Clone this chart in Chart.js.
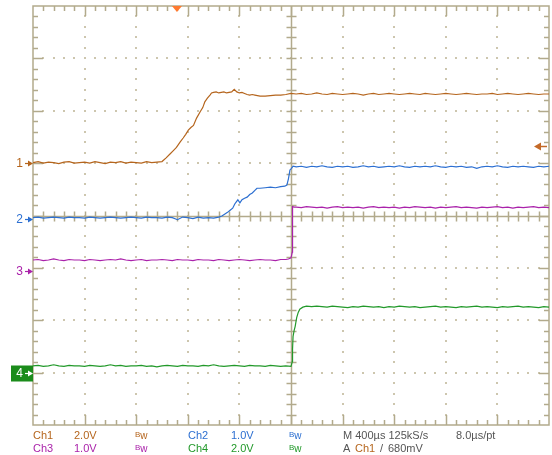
<!DOCTYPE html>
<html>
<head>
<meta charset="utf-8">
<script src="https://cdn.jsdelivr.net/npm/chart.js@4.4.0/dist/chart.umd.min.js"></script>
<style>
body { margin: 0; background: #fff; }
#wrap { position: relative; width: 552px; height: 455px; }
#scope { position: absolute; left: 0; top: 0; }
.t { position: absolute; font: 11px "Liberation Sans", Arial, sans-serif; line-height: 13px; white-space: pre; color: #555; }
.bw { font-size: 10px; }
.bw b { font-weight: normal; font-size: 8px; position: relative; top: -2px; }
</style>
</head>
<body>
<div id="wrap">
<canvas id="scope" width="552" height="455"></canvas>
<!-- readout row 1 -->
<span class="t" style="left:33px;top:429px;color:#b5651d">Ch1</span>
<span class="t" style="left:74px;top:429px;color:#b5651d">2.0V</span>
<span class="t bw" style="left:135px;top:429px;color:#b5651d"><b>B</b>w</span>
<span class="t" style="left:188px;top:429px;color:#2c6fd1">Ch2</span>
<span class="t" style="left:231px;top:429px;color:#2c6fd1">1.0V</span>
<span class="t bw" style="left:289px;top:429px;color:#2c6fd1"><b>B</b>w</span>
<span class="t" style="left:343px;top:429px">M 400µs 125kS/s</span>
<span class="t" style="left:456px;top:429px">8.0µs/pt</span>
<!-- readout row 2 -->
<span class="t" style="left:33px;top:442px;color:#aa22aa">Ch3</span>
<span class="t" style="left:74px;top:442px;color:#aa22aa">1.0V</span>
<span class="t bw" style="left:135px;top:442px;color:#aa22aa"><b>B</b>w</span>
<span class="t" style="left:188px;top:442px;color:#22992a">Ch4</span>
<span class="t" style="left:231px;top:442px;color:#22992a">2.0V</span>
<span class="t bw" style="left:289px;top:442px;color:#22992a"><b>B</b>w</span>
<span class="t" style="left:343px;top:442px">A</span>
<span class="t" style="left:355px;top:442px;color:#b5651d">Ch1</span>
<span class="t" style="left:380px;top:442px">/</span>
<span class="t" style="left:388px;top:442px">680mV</span>
</div>
<script>
// time base in divisions (400us/div), typed once and sliced per channel
const grid01 = [0.0,0.1,0.2,0.3,0.4,0.5,0.6,0.7,0.8,0.9,
  1.0,1.1,1.2,1.3,1.4,1.5,1.6,1.7,1.8,1.9,
  2.0,2.1,2.2,2.3,2.4,2.5,2.6,2.7,2.8,2.9,
  3.0,3.1,3.2,3.3,3.4,3.5,3.6,3.7,3.8,3.9,
  4.0,4.1,4.2,4.3,4.4,4.5,4.6,4.7,4.8,4.9,
  5.0,5.1,5.2,5.3,5.4,5.5,5.6,5.7,5.8,5.9,
  6.0,6.1,6.2,6.3,6.4,6.5,6.6,6.7,6.8,6.9,
  7.0,7.1,7.2,7.3,7.4,7.5,7.6,7.7,7.8,7.9,
  8.0,8.1,8.2,8.3,8.4,8.5,8.6,8.7,8.8,8.9,
  9.0,9.1,9.2,9.3,9.4,9.5,9.6,9.7,9.8,9.9,10.0];

// Ch1 (brown)
const ch1T = grid01.slice(0, 26).concat(
  [2.58,2.65,2.72,2.78,2.85,2.91,2.96,3.01,3.06,3.11,3.17,3.24,3.29,3.33,3.38,3.43,3.46],
  [3.5,3.55,3.6,3.65,3.7,3.75,3.8,3.85,3.9,3.95,4.0,4.05,4.1,4.15,4.2,4.25,4.3,4.35,4.4],
  grid01.slice(45, 51), grid01.slice(51));
const ch1V = [5.01,5.03,5.00,5.02,5.01,4.99,5.02,5.03,5.00,5.01,
  5.02,5.00,5.03,5.01,4.99,5.02,5.01,5.03,5.00,5.02,
  5.01,5.00,5.03,5.01,5.02,5.03,
  5.10,5.17,5.24,5.30,5.40,5.48,5.55,5.63,5.68,5.72,5.86,5.98,6.06,6.17,6.24,6.30,6.34,
  6.35,6.36,6.34,6.35,6.36,6.34,6.35,6.36,6.41,6.36,6.34,6.35,6.33,6.31,6.30,6.31,6.30,6.29,6.28,
  6.28,6.29,6.30,6.30,6.31,6.33,
  6.32,6.33,6.31,6.32,6.34,6.32,6.31,6.33,6.32,6.31,
  6.32,6.33,6.32,6.30,6.32,6.33,6.31,6.32,6.33,6.32,
  6.31,6.32,6.33,6.32,6.31,6.33,6.32,6.31,6.32,6.33,
  6.32,6.31,6.32,6.33,6.32,6.31,6.32,6.32,6.33,6.31,
  6.32,6.33,6.32,6.31,6.32,6.33,6.32,6.31,6.32,6.32];

// Ch2 (blue)
const ch2T = grid01.slice(0, 37).concat(
  [3.66,3.72,3.77,3.82,3.87,3.91,3.94,3.97,4.01,4.05,4.10,4.15,4.2,4.25,4.3,4.34,4.4,4.5,4.6,4.7,4.8,4.88,4.92,4.95,4.98,5.01,5.04],
  grid01.slice(51));
const ch2V = [3.96,3.97,3.95,3.96,3.97,3.96,3.95,3.97,3.96,3.96,
  3.95,3.97,3.96,3.95,3.96,3.97,3.96,3.95,3.96,3.97,
  3.96,3.95,3.97,3.96,3.96,3.95,3.97,3.96,3.92,3.97,
  3.96,3.94,3.97,3.95,3.96,3.95,3.97,
  3.99,4.03,4.06,4.10,4.14,4.22,4.26,4.30,4.24,4.30,4.33,4.35,4.40,4.43,4.48,
  4.52,4.52,4.53,4.54,4.53,4.55,4.56,4.58,4.70,4.87,4.90,4.94,
  4.93,4.94,4.92,4.94,4.93,4.95,4.93,4.92,4.94,4.93,
  4.94,4.92,4.93,4.95,4.93,4.94,4.92,4.93,4.94,4.93,
  4.95,4.93,4.92,4.94,4.93,4.94,4.93,4.95,4.93,4.92,
  4.94,4.93,4.94,4.92,4.93,4.90,4.93,4.94,4.93,4.95,
  4.93,4.92,4.94,4.93,4.94,4.93,4.92,4.94,4.93,4.94];

// Ch3 (magenta)
const ch3T = grid01.slice(0, 50).concat([4.95,5.0,5.025,5.03,5.06], grid01.slice(51));
const ch3V = [3.15,3.16,3.14,3.15,3.17,3.15,3.14,3.16,3.15,3.15,
  3.14,3.16,3.15,3.14,3.15,3.16,3.15,3.17,3.15,3.14,
  3.15,3.16,3.14,3.15,3.15,3.16,3.15,3.14,3.16,3.15,
  3.15,3.14,3.16,3.15,3.15,3.14,3.16,3.15,3.14,3.15,
  3.16,3.15,3.14,3.15,3.16,3.15,3.15,3.14,3.16,3.16,
  3.17,3.19,3.30,4.17,4.16,
  4.16,4.15,4.17,4.16,4.15,4.16,4.14,4.16,4.17,4.15,
  4.16,4.15,4.16,4.14,4.16,4.17,4.15,4.16,4.15,4.16,
  4.14,4.16,4.15,4.17,4.16,4.15,4.16,4.14,4.16,4.15,
  4.16,4.17,4.15,4.16,4.15,4.14,4.16,4.15,4.16,4.17,
  4.15,4.16,4.14,4.16,4.15,4.16,4.17,4.15,4.16,4.15];

// Ch4 (green)
const ch4T = grid01.slice(0, 51).concat(
  [5.025,5.03,5.04,5.06,5.08,5.11,5.14,5.17,5.23,5.3,5.4,5.5], grid01.slice(56));
const ch4V = [1.13,1.14,1.12,1.13,1.15,1.13,1.12,1.14,1.13,1.13,
  1.12,1.14,1.13,1.12,1.13,1.15,1.13,1.14,1.12,1.13,
  1.13,1.14,1.12,1.13,1.11,1.13,1.14,1.13,1.12,1.14,
  1.13,1.13,1.12,1.14,1.13,1.15,1.13,1.12,1.13,1.14,
  1.13,1.12,1.14,1.13,1.13,1.12,1.14,1.13,1.12,1.13,1.12,
  1.21,1.45,1.69,1.80,1.88,2.05,2.15,2.21,2.25,2.27,2.26,2.27,
  2.26,2.25,2.27,2.26,2.25,2.24,2.26,2.25,2.27,2.26,
  2.25,2.26,2.24,2.26,2.25,2.27,2.26,2.25,2.26,2.24,
  2.25,2.26,2.27,2.25,2.26,2.25,2.24,2.26,2.25,2.26,
  2.27,2.25,2.26,2.25,2.24,2.26,2.25,2.26,2.27,2.25,
  2.26,2.25,2.24,2.26,2.25];

// channel ground markers and trigger
const chNames = ['1', '2', '3', '4'];
const chGround = [5.0, 3.94, 2.94, 1.0];
const chColors = ['#b5651d', '#2c6fd1', '#aa22aa', '#22992a'];
const trigLevel = 5.32;
const trigPos = 2.79;

function pts(t, v) {
  return t.map(function (x, i) { return { x: x, y: v[i] }; });
}

// graticule, center cross, markers
const scopeGrid = {
  id: 'scopeGrid',
  beforeDatasetsDraw(chart) {
    const ctx = chart.ctx, xs = chart.scales.x, ys = chart.scales.y, a = chart.chartArea;
    ctx.save();
    // dotted major lines
    ctx.fillStyle = '#cdc6ae';
    for (let i = 1; i < 10; i++) {
      if (i == 5) continue;
      const px = Math.round(xs.getPixelForValue(i));
      for (let k = 1; k < 40; k++) {
        ctx.fillRect(px - 1, Math.round(ys.getPixelForValue(k * 0.2)) - 1, 2, 2);
      }
    }
    for (let j = 1; j < 8; j++) {
      if (j == 4) continue;
      const py = Math.round(ys.getPixelForValue(j));
      for (let k = 1; k < 50; k++) {
        ctx.fillRect(Math.round(xs.getPixelForValue(k * 0.2)) - 1, py - 1, 2, 2);
      }
    }
    // border with ticks
    ctx.strokeStyle = '#b2aa8c';
    ctx.lineWidth = 1.5;
    ctx.strokeRect(a.left, a.top, a.right - a.left, a.bottom - a.top);
    ctx.beginPath();
    for (let k = 1; k < 50; k++) {
      const px = Math.round(xs.getPixelForValue(k * 0.2)) + 0.5;
      const len = k % 5 == 0 ? 10 : 5;
      ctx.moveTo(px, a.top); ctx.lineTo(px, a.top + len);
      ctx.moveTo(px, a.bottom); ctx.lineTo(px, a.bottom - len);
    }
    for (let k = 1; k < 40; k++) {
      const py = Math.round(ys.getPixelForValue(k * 0.2)) + 0.5;
      const len = k % 5 == 0 ? 10 : 5;
      ctx.moveTo(a.left, py); ctx.lineTo(a.left + len, py);
      ctx.moveTo(a.right, py); ctx.lineTo(a.right - len, py);
    }
    ctx.stroke();
    // center cross
    const cx = Math.round(xs.getPixelForValue(5)) + 0.5, cy = Math.round(ys.getPixelForValue(4)) + 0.5;
    ctx.beginPath();
    ctx.moveTo(cx, a.top); ctx.lineTo(cx, a.bottom);
    ctx.moveTo(a.left, cy); ctx.lineTo(a.right, cy);
    for (let k = 1; k < 50; k++) {
      const px = Math.round(xs.getPixelForValue(k * 0.2)) + 0.5;
      ctx.moveTo(px, cy - 5); ctx.lineTo(px, cy + 5);
    }
    for (let k = 1; k < 40; k++) {
      const py = Math.round(ys.getPixelForValue(k * 0.2)) + 0.5;
      ctx.moveTo(cx - 5, py); ctx.lineTo(cx + 5, py);
    }
    ctx.stroke();
    ctx.restore();
  },
  afterDraw(chart) {
    const ctx = chart.ctx, xs = chart.scales.x, ys = chart.scales.y, a = chart.chartArea;
    ctx.save();
    ctx.font = '12px "Liberation Sans", Arial, sans-serif';
    ctx.textBaseline = 'middle';
    for (let i = 0; i < chNames.length; i++) {
      const py = Math.round(ys.getPixelForValue(chGround[i])) + 0.5;
      let fg = chColors[i];
      if (i == 3) {
        ctx.fillStyle = '#1b8c1b';
        ctx.fillRect(11, py - 8, a.left - 11, 16);
        fg = '#fff';
      }
      ctx.fillStyle = fg;
      ctx.strokeStyle = fg;
      ctx.textAlign = 'right';
      ctx.fillText(chNames[i], 23, py + 0.5);
      ctx.lineWidth = 1.2;
      ctx.beginPath();
      ctx.moveTo(25, py); ctx.lineTo(a.left - 2, py);
      ctx.stroke();
      ctx.beginPath();
      ctx.moveTo(a.left - 5, py - 3); ctx.lineTo(a.left, py); ctx.lineTo(a.left - 5, py + 3);
      ctx.closePath(); ctx.fill();
    }
    // trigger level arrow (right edge)
    const ty = Math.round(ys.getPixelForValue(trigLevel)) + 0.5;
    ctx.fillStyle = '#c46a28';
    ctx.strokeStyle = '#c46a28';
    ctx.lineWidth = 1.5;
    ctx.beginPath();
    ctx.moveTo(a.right - 10, ty); ctx.lineTo(a.right - 2, ty);
    ctx.stroke();
    ctx.beginPath();
    ctx.moveTo(a.right - 15, ty); ctx.lineTo(a.right - 8, ty - 4); ctx.lineTo(a.right - 8, ty + 4);
    ctx.closePath(); ctx.fill();
    // trigger position (top)
    const tx = xs.getPixelForValue(trigPos);
    ctx.fillStyle = '#ff7a30';
    ctx.beginPath();
    ctx.moveTo(tx - 5, a.top); ctx.lineTo(tx + 5, a.top); ctx.lineTo(tx, a.top + 6);
    ctx.closePath(); ctx.fill();
    ctx.restore();
  }
};

function trace(label, t, v, color) {
  return { label: label, data: pts(t, v), borderColor: color, borderWidth: 1.2, pointRadius: 0, tension: 0, fill: false };
}

new Chart(document.getElementById('scope').getContext('2d'), {
  type: 'line',
  data: {
    datasets: [
      trace('Ch1', ch1T, ch1V, chColors[0]),
      trace('Ch2', ch2T, ch2V, chColors[1]),
      trace('Ch3', ch3T, ch3V, chColors[2]),
      trace('Ch4', ch4T, ch4V, chColors[3])
    ]
  },
  options: {
    responsive: false,
    animation: false,
    layout: { padding: { left: 33, right: 3, top: 6, bottom: 30 } },
    plugins: { legend: { display: false }, tooltip: { enabled: false } },
    scales: {
      x: { type: 'linear', min: 0, max: 10, display: false },
      y: { type: 'linear', min: 0, max: 8, display: false }
    }
  },
  plugins: [scopeGrid]
});
</script>
</body>
</html>
